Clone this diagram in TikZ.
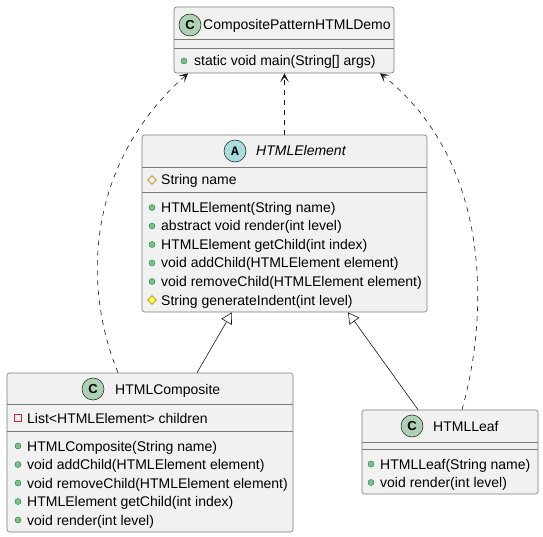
\documentclass[tikz,border=0pt]{standalone}
\usepackage{fontspec}
\setmainfont{Liberation Sans}
\setmonofont{Liberation Mono}
\usetikzlibrary{arrows.meta,shapes.geometric}
\definecolor{boxfill}{HTML}{F1F1F1}
\definecolor{boxline}{HTML}{7A7A7A}
\definecolor{arrline}{HTML}{181818}
\definecolor{classC}{HTML}{ADD1B2}
\definecolor{classA}{HTML}{A9DCDF}
\definecolor{pubfill}{HTML}{84BE84}
\definecolor{publine}{HTML}{038048}
\definecolor{protline}{HTML}{B38D22}
\definecolor{protfill}{HTML}{FFFF44}
\definecolor{privline}{HTML}{C82930}
\begin{document}
\begin{tikzpicture}[x=1pt, y=-1pt,
						cls/.style={draw=boxline, fill=boxfill, line width=0.6pt, rounded corners=2.5pt, inner sep=0pt},
						sep/.style={draw=boxline, line width=0.6pt},
						spot/.style={circle, draw=arrline, line width=0.5pt, minimum size=22pt, inner sep=0pt, font=\fontsize{13}{13}\selectfont\bfseries},
						ttl/.style={anchor=base west, inner sep=0pt, font=\fontsize{14}{16}\selectfont},
						mem/.style={anchor=base west, inner sep=0pt, font=\fontsize{14}{16}\selectfont},
						pub/.style={circle, fill=pubfill, draw=publine, line width=0.4pt, minimum size=6pt, inner sep=0pt},
						prot/.style={diamond, draw=protline, line width=0.6pt, minimum size=9pt, inner sep=0pt},
						protm/.style={prot, fill=protfill},
						priv/.style={rectangle, draw=privline, line width=0.6pt, minimum size=7pt, inner sep=0pt},
						dep/.style={draw=arrline, line width=0.6pt, dash pattern=on 5pt off 5pt, -{Stealth[length=9pt,width=9pt,inset=5pt]}},
						ext/.style={draw=arrline, line width=0.6pt, -{Triangle[length=11pt,width=12pt,fill=white]}},
					]
					\useasboundingbox (0,0) rectangle (543,537);
					% class boxes
					\node[cls, minimum width=220pt, minimum height=66pt] (demo) at (284,40) {};
					\node[cls, minimum width=285pt, minimum height=177pt] (elem) at (284.5,223.5) {};
					\node[cls, minimum width=286pt, minimum height=159pt] (comp) at (150,452.5) {};
					\node[cls, minimum width=176pt, minimum height=84pt] (leaf) at (450,452) {};

					\draw[sep] (demo.west |- 0,39) -- (demo.east |- 0,39) (demo.west |- 0,48) -- (demo.east |- 0,48);
					\draw[sep] (elem.west |- 0,167) -- (elem.east |- 0,167) (elem.west |- 0,192) -- (elem.east |- 0,192);
					\draw[sep] (comp.west |- 0,404) -- (comp.east |- 0,404) (comp.west |- 0,431) -- (comp.east |- 0,431);
					\draw[sep] (leaf.west |- 0,442) -- (leaf.east |- 0,442) (leaf.west |- 0,449) -- (leaf.east |- 0,449);

					% CompositePatternHTMLDemo
					\node[spot, fill=classC] (demoC) at (190,25) {C};
					\node[ttl] (demoT) at (203,30) {CompositePatternHTMLDemo};
					\node[pub] (dmi1) at (184,61) {}; \node[mem] (dm1) at (194,66) {static void main(String[] args)};

					% HTMLElement
					\node[spot, fill=classA, font=\fontsize{13}{13}\selectfont\ttfamily\bfseries] (elemA) at (235,151) {A};
					\node[ttl, font=\fontsize{14}{16}\selectfont\itshape] (elemT) at (256,156) {HTMLElement};
					\node[prot] (efi1) at (152,180) {}; \node[mem] (ef1) at (161,185) {String name};
					\node[pub] (emi1) at (152,207.5) {}; \node[mem] (em1) at (161,212.5) {HTMLElement(String name)};
					\node[pub] (emi2) at (152,226) {}; \node[mem] (em2) at (161,231) {abstract void render(int level)};
					\node[pub] (emi3) at (152,244.5) {}; \node[mem] (em3) at (161,249.5) {HTMLElement getChild(int index)};
					\node[pub] (emi4) at (152,263) {}; \node[mem] (em4) at (161,268) {void addChild(HTMLElement element)};
					\node[pub] (emi5) at (152,281.5) {}; \node[mem] (em5) at (161,286.5) {void removeChild(HTMLElement element)};
					\node[protm] (emi6) at (152,300) {}; \node[mem] (em6) at (161,305) {String generateIndent(int level)};

					% HTMLComposite
					\node[spot, fill=classC] (compC) at (93,389) {C};
					\node[ttl] (compT) at (115,394) {HTMLComposite};
					\node[priv] (cfi1) at (18,418) {}; \node[mem] (cf1) at (27,423) {List<HTMLElement> children};
					\node[pub] (cmi1) at (18,446) {}; \node[mem] (cm1) at (27,451) {HTMLComposite(String name)};
					\node[pub] (cmi2) at (18,464.5) {}; \node[mem] (cm2) at (27,469.5) {void addChild(HTMLElement element)};
					\node[pub] (cmi3) at (18,483) {}; \node[mem] (cm3) at (27,488) {void removeChild(HTMLElement element)};
					\node[pub] (cmi4) at (18,501.5) {}; \node[mem] (cm4) at (27,506.5) {HTMLElement getChild(int index)};
					\node[pub] (cmi5) at (18,520) {}; \node[mem] (cm5) at (27,525) {void render(int level)};

					% HTMLLeaf
					\node[spot, fill=classC] (leafC) at (412,426) {C};
					\node[ttl] (leafT) at (433,431) {HTMLLeaf};
					\node[pub] (lmi1) at (371,464) {}; \node[mem] (lm1) at (380,469) {HTMLLeaf(String name)};
					\node[pub] (lmi2) at (371,482.5) {}; \node[mem] (lm2) at (380,487.5) {void render(int level)};

					% relations
					\draw[dep] (elem.north) -- (elem.north |- demo.south);
					\draw[dep] ([xshift=-32pt]comp.north) .. controls (80,280) and (90,160) .. ([xshift=-96pt]demo.south);
					\draw[dep] ([xshift=12pt]leaf.north) .. controls (490,310) and (490,160) .. ([xshift=96pt]demo.south);
					\draw[ext] ([xshift=47pt]comp.north) -- ([xshift=-52.5pt]elem.south);
					\draw[ext] ([xshift=-32pt]leaf.north) -- ([xshift=63.5pt]elem.south);
				\end{tikzpicture}
\end{document}
